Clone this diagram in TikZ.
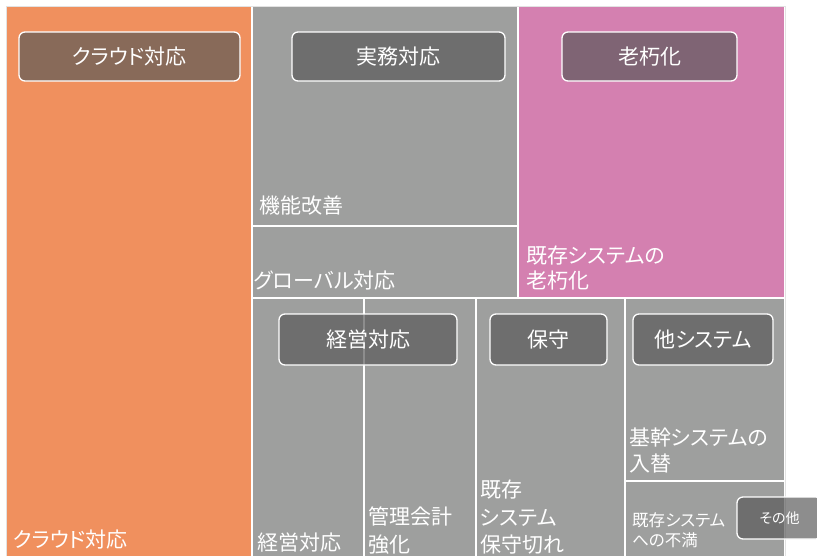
\documentclass[tikz,border=0pt]{standalone}
\usepackage{fontspec}
\newfontfamily\jp[RawFeature=+palt]{Noto Sans CJK JP}
\definecolor{corange}{HTML}{F0905E}
\definecolor{cgray}{HTML}{9E9F9E}
\definecolor{cpink}{HTML}{D480B0}
\definecolor{cframe}{HTML}{E2E2E2}
\definecolor{cbox}{HTML}{585858}
\tikzset{
  cell/.style={draw=white, line width=2pt},
  hdr/.style={draw=white, line width=1.3pt, rounded corners=6pt, fill=cbox, fill opacity=0.68, draw opacity=1, text opacity=1, text=white, font={\jp\fontsize{21}{24}\selectfont}, inner sep=0pt},
  lbl/.style={text=white, anchor=base west, inner sep=0pt, align=left, font={\jp\fontsize{21}{27}\selectfont}},
  slbl/.style={text=white, anchor=base west, inner sep=0pt, align=left, font={\jp\fontsize{16.5}{20}\selectfont}},
}
\begin{document}
\begin{tikzpicture}[x=1pt,y=-1pt]
\useasboundingbox (0,0) rectangle (817,555);
\fill[white] (0,0) rectangle (817,555);
\clip (0,0) rectangle (817,555);
% cells
\path[cell, fill=corange] (6,6) rectangle (252,575);
\path[cell, fill=cgray] (252,6) rectangle (518,226);
\path[cell, fill=cgray] (252,226) rectangle (518,298);
\path[cell, fill=cpink] (518,6) rectangle (785,298);
\path[cell, fill=cgray] (252,298) rectangle (363.5,575);
\path[cell, fill=cgray] (363.5,298) rectangle (475.5,575);
\path[cell, fill=cgray] (475.5,298) rectangle (625,575);
\path[cell, fill=cgray] (625,298) rectangle (785,481);
\path[cell, fill=cgray] (625,481) rectangle (785,575);
\draw[cframe, line width=1pt] (6,6) rectangle (785,575);
% cell labels (anchor = baseline of the last line)
\node[lbl] (lcloud) at (13,547) {クラウド対応};
\node[lbl] (lkino) at (259,213.5) {機能改善};
\node[lbl] (lglobal) at (254,288.5) {グローバル対応};
\node[lbl, font={\jp\fontsize{21}{25}\selectfont}] (lroku) at (526,288) {既存システムの\\老朽化};
\node[lbl] (lkeiei) at (257,550.5) {経営対応};
\node[lbl, font={\jp\fontsize{21}{28}\selectfont}] (lkanri) at (368,552.5) {管理会計\\強化};
\node[lbl, font={\jp\fontsize{21}{27.5}\selectfont}] (lhoshu) at (480,552.5) {既存\\システム\\保守切れ};
\node[lbl, font={\jp\fontsize{21}{26}\selectfont}] (lkikan) at (629,471.5) {基幹システムの\\入替};
\node[slbl] (lfuman) at (632,546) {既存システム\\への不満};
% header boxes
\node[hdr, minimum width=221pt, minimum height=49pt] (hcloud) at (129.5,56.5) {クラウド対応};
\node[hdr, minimum width=213pt, minimum height=49pt] (hjitsumu) at (398.5,56.5) {実務対応};
\node[hdr, minimum width=175pt, minimum height=49pt] (hroku) at (649.5,56.5) {老朽化};
\node[hdr, minimum width=178pt, minimum height=51pt] (hkeiei) at (368,339.5) {経営対応};
\node[hdr, minimum width=117pt, minimum height=51pt] (hhoshu) at (548.5,339.5) {保守};
\node[hdr, minimum width=140pt, minimum height=51pt] (hother) at (703,339.5) {他システム};
\node[hdr, minimum width=85pt, minimum height=42pt, font={\jp\fontsize{14}{16}\selectfont}] (hsonota) at (779.5,518) {その他};
\end{tikzpicture}
\end{document}
